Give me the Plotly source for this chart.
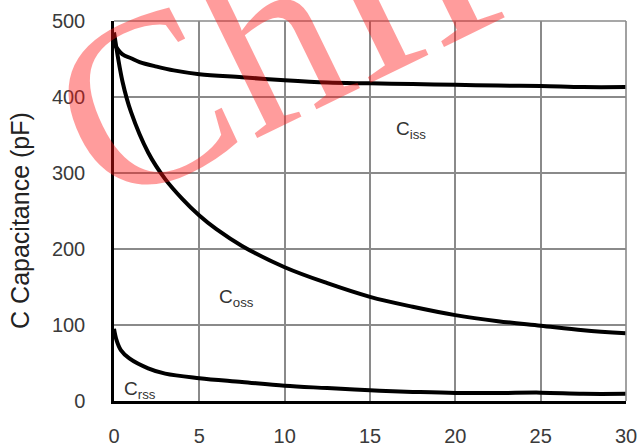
import plotly.graph_objects as go

# Data
x_ciss = [0, 0.5, 1, 1.5, 2.5, 3.5, 5, 7.5, 10, 12.5, 15, 17.5, 20, 22.5, 25, 27.5, 30]
y_ciss = [470, 456, 451, 446, 440, 435, 430, 426, 422, 419, 418, 417, 416, 415, 414.5, 413, 413]

x_coss = [0, 0.5, 1, 2, 3, 4, 5, 6, 7.5, 10, 12.5, 15, 17.5, 20, 22.5, 25, 27.5, 30]
y_coss = [485, 420, 380, 327, 292, 266, 244, 226, 204, 176, 155, 137, 124, 113, 105, 99, 93, 89]

x_crss = [0, 0.15, 0.4, 0.9, 2, 3, 5, 7.5, 10, 12.5, 15, 17.5, 20, 22.5, 25, 27.5, 30]
y_crss = [95, 80, 67, 56, 43, 36, 30, 25, 20, 17, 14, 12, 10.5, 10.5, 11, 9.5, 9.5]

x_ticks = [0, 5, 10, 15, 20, 25, 30]
y_ticks = [0, 100, 200, 300, 400, 500]

series_labels = ["C<sub>iss</sub>", "C<sub>oss</sub>", "C<sub>rss</sub>"]
label_x = [17.4, 7.2, 1.5]
label_y = [357, 135, 14]

y_title = "C Capacitance (pF)"
watermark = "ChIP"

fig = go.Figure()
for xs, ys in [(x_ciss, y_ciss), (x_coss, y_coss), (x_crss, y_crss)]:
    fig.add_trace(go.Scatter(x=xs, y=ys, mode="lines",
                             line=dict(color="black", width=4, shape="spline", smoothing=1.0),
                             showlegend=False, hoverinfo="skip"))

FONT = "Arial, Liberation Sans, sans-serif"
fig.update_layout(
    width=641, height=446,
    margin=dict(l=114, r=15, t=21, b=45, autoexpand=False),
    paper_bgcolor="white", plot_bgcolor="white",
    showlegend=False,
    xaxis=dict(range=[0, 30], tickvals=x_ticks, showgrid=True, gridcolor="#8a8a8a", gridwidth=1.6,
               showline=True, linecolor="black", linewidth=2.5, zeroline=False, automargin=False,
               ticks="", ticklabelstandoff=15,
               tickfont=dict(family=FONT, size=20, color="#3a3a3a")),
    yaxis=dict(range=[0, 500], tickvals=y_ticks, showgrid=True, gridcolor="#8a8a8a", gridwidth=1.6,
               showline=True, linecolor="black", linewidth=2.5, zeroline=False, automargin=False,
               ticks="", ticklabelstandoff=22,
               tickfont=dict(family=FONT, size=20, color="#3a3a3a")),
)

# top and right border
fig.add_shape(type="line", xref="paper", yref="paper", x0=0, x1=1, y0=1, y1=1,
              line=dict(color="#8a8a8a", width=1.6))
fig.add_shape(type="line", xref="paper", yref="paper", x0=1, x1=1, y0=0, y1=1,
              line=dict(color="#8a8a8a", width=1.6))

for t, lx, ly in zip(series_labels, label_x, label_y):
    fig.add_annotation(x=lx, y=ly, xref="x", yref="y", text=t, showarrow=False,
                       font=dict(family=FONT, size=19, color="#333333"))

fig.add_annotation(x=-0.184, y=0.476, xref="paper", yref="paper", text=y_title,
                   showarrow=False, textangle=-90, xanchor="center", yanchor="middle",
                   font=dict(family=FONT, size=25, color="#222222"))

fig.add_annotation(x=0.355, y=0.984, xref="paper", yref="paper", text=watermark,
                   showarrow=False, textangle=-26, xanchor="center", yanchor="middle",
                   font=dict(family="Liberation Serif, serif", size=245,
                             color="rgba(255,20,20,0.42)"))

fig.write_html("out.html", config={"displayModeBar": False},
               post_script="document.body.style.margin='0';document.body.style.overflow='hidden';")
